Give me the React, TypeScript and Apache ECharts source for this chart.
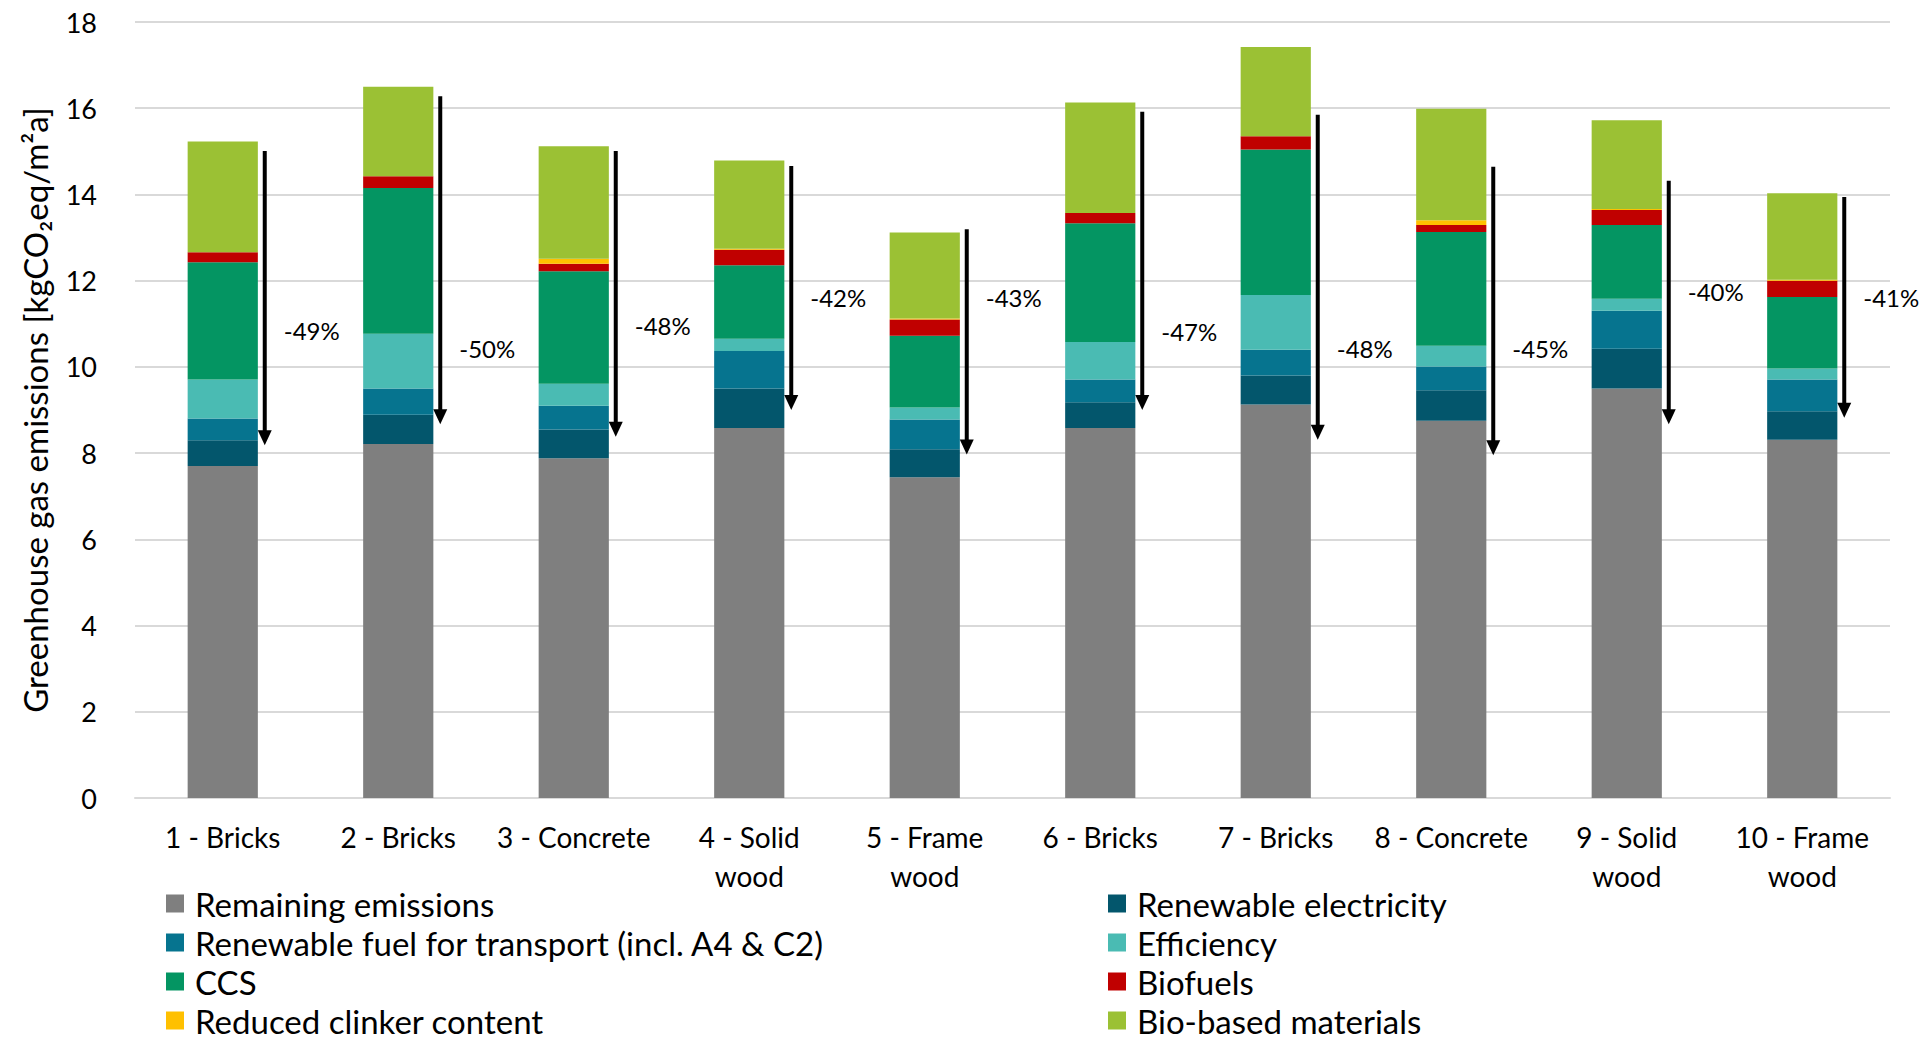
import React, { useEffect, useRef } from "react";
import * as echarts from "echarts";

// Building variants on the x axis
const categories = [
  "1 - Bricks",
  "2 - Bricks",
  "3 - Concrete",
  "4 - Solid\nwood",
  "5 - Frame\nwood",
  "6 - Bricks",
  "7 - Bricks",
  "8 - Concrete",
  "9 - Solid\nwood",
  "10 - Frame\nwood",
];

// Stacked emission components [kgCO2eq/m²a], bottom to top
const remainingEmissions = [7.7, 8.21, 7.88, 8.58, 7.44, 8.58, 9.13, 8.75, 9.5, 8.31];
const renewableElectricity = [0.6, 0.68, 0.67, 0.92, 0.65, 0.6, 0.67, 0.71, 0.92, 0.66];
const renewableFuel = [0.5, 0.61, 0.55, 0.87, 0.69, 0.53, 0.6, 0.55, 0.88, 0.74];
const efficiency = [0.91, 1.27, 0.51, 0.28, 0.28, 0.87, 1.27, 0.48, 0.28, 0.25];
const ccs = [2.72, 3.38, 2.61, 1.71, 1.66, 2.75, 3.37, 2.64, 1.71, 1.66];
const biofuels = [0.23, 0.27, 0.17, 0.36, 0.38, 0.24, 0.31, 0.16, 0.35, 0.38];
const reducedClinker = [0, 0, 0.12, 0.02, 0.02, 0, 0, 0.11, 0.02, 0.02];
const bioBasedMaterials = [2.57, 2.08, 2.61, 2.05, 2.0, 2.56, 2.07, 2.59, 2.06, 2.01];

// Reduction arrows: start, tip, label height and stated reduction
const arrowStart = [15.01, 16.28, 15.01, 14.66, 13.19, 15.92, 15.85, 14.64, 14.32, 13.94];
const arrowTip = [8.18, 8.67, 8.38, 9.0, 7.97, 9.0, 8.31, 7.95, 8.67, 8.82];
const reductionLabelY = [10.85, 10.42, 10.97, 11.62, 11.62, 10.82, 10.42, 10.42, 11.75, 11.62];
const reductionLabels = ["-49%", "-50%", "-48%", "-42%", "-43%", "-47%", "-48%", "-45%", "-40%", "-41%"];

// Y axis ticks
const yMin = 0;
const yMax = 18;
const yStep = 2;

const FONT = "Lato, 'Open Sans', sans-serif";

const seriesDefs = [
  { name: "Remaining emissions", data: remainingEmissions, color: "#7F7F7F" },
  { name: "Renewable electricity", data: renewableElectricity, color: "#03566C" },
  { name: "Renewable fuel for transport (incl. A4 & C2)", data: renewableFuel, color: "#06748F" },
  { name: "Efficiency", data: efficiency, color: "#4ABBB3" },
  { name: "CCS", data: ccs, color: "#049562" },
  { name: "Biofuels", data: biofuels, color: "#C00000" },
  { name: "Reduced clinker content", data: reducedClinker, color: "#FFC000" },
  { name: "Bio-based materials", data: bioBasedMaterials, color: "#9BC134" },
];

const leftLegend = [0, 2, 4, 6].map((i) => seriesDefs[i].name);
const rightLegend = [1, 3, 5, 7].map((i) => seriesDefs[i].name);

export default function App() {
  const ref = useRef<HTMLDivElement>(null);

  useEffect(() => {
    document.body.style.margin = "0";
    if (!ref.current) return;
    const chart = echarts.init(ref.current, undefined, { renderer: "svg" });

    const legendCommon = {
      orient: "vertical" as const,
      icon: "rect",
      itemWidth: 18,
      itemHeight: 18,
      itemGap: 6,
      padding: 0,
      height: 170,
      selectedMode: false,
      textStyle: {
        fontFamily: FONT,
        fontSize: 33,
        color: "#000",
        lineHeight: 33,
        padding: [0, 0, 0, 6],
      },
    };

    chart.setOption({
      animation: false,
      backgroundColor: "#fff",
      grid: { left: 135, right: 34, top: 22, bottom: 243, containLabel: false },
      legend: [
        { ...legendCommon, left: 166, top: 887, data: leftLegend },
        { ...legendCommon, left: 1108, top: 887, data: rightLegend },
      ],
      xAxis: {
        type: "category",
        data: categories,
        axisLine: { lineStyle: { color: "#D9D9D9", width: 2 } },
        axisTick: { show: false },
        axisLabel: {
          fontFamily: FONT,
          fontSize: 28,
          color: "#000",
          lineHeight: 39,
          margin: 19,
          interval: 0,
        },
      },
      yAxis: {
        type: "value",
        min: yMin,
        max: yMax,
        interval: yStep,
        name: "Greenhouse gas emissions [kgCO₂eq/m²a]",
        nameLocation: "middle",
        nameGap: 84,
        nameTextStyle: { fontFamily: FONT, fontSize: 33, color: "#000" },
        axisLine: { show: false },
        axisTick: { show: false },
        axisLabel: { fontFamily: FONT, fontSize: 27, color: "#000", margin: 38 },
        splitLine: { lineStyle: { color: "#D9D9D9", width: 2 } },
      },
      series: [
        ...seriesDefs.map((s) => ({
          name: s.name,
          type: "bar",
          stack: "total",
          barWidth: "40%",
          data: s.data,
          itemStyle: { color: s.color },
          emphasis: { disabled: true },
        })),
        {
          type: "custom",
          name: "reduction",
          silent: true,
          z: 10,
          data: arrowStart.map((v, i) => [i, v, arrowTip[i], reductionLabelY[i]]),
          encode: { x: 0, y: [1, 2] },
          renderItem: (params: any, api: any) => {
            const idx = api.value(0);
            const x = api.coord([idx, 0])[0] + 42;
            const yTop = api.coord([idx, api.value(1)])[1];
            const yTip = api.coord([idx, api.value(2)])[1];
            const yLabel = api.coord([idx, api.value(3)])[1];
            const headLen = 15;
            const headHalf = 7;
            return {
              type: "group",
              children: [
                {
                  type: "line",
                  shape: { x1: x, y1: yTop, x2: x, y2: yTip - headLen + 1 },
                  style: { stroke: "#000", lineWidth: 4 },
                },
                {
                  type: "polygon",
                  shape: {
                    points: [
                      [x - headHalf, yTip - headLen],
                      [x + headHalf, yTip - headLen],
                      [x, yTip],
                    ],
                  },
                  style: { fill: "#000" },
                },
                {
                  type: "text",
                  x: x + 19,
                  y: yLabel,
                  style: {
                    text: reductionLabels[params.dataIndex],
                    fontFamily: FONT,
                    fontSize: 24,
                    fill: "#000",
                    align: "left",
                    verticalAlign: "middle",
                  },
                },
              ],
            };
          },
        },
      ],
    });

    return () => chart.dispose();
  }, []);

  return <div ref={ref} style={{ width: 1924, height: 1041 }} />;
}
